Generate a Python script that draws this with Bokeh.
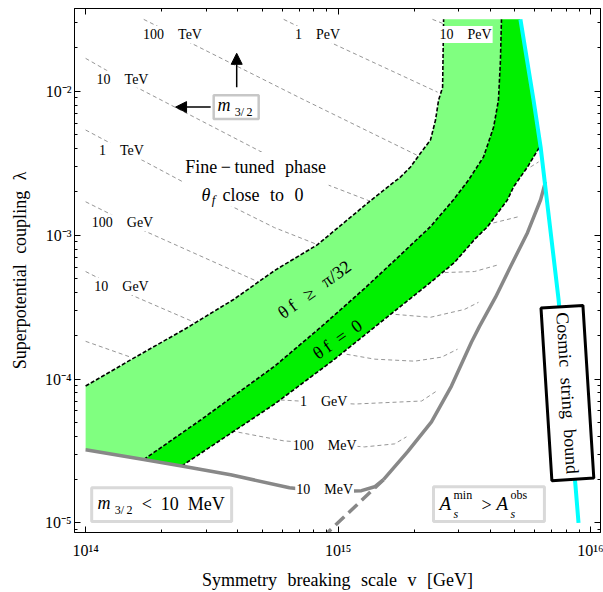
import numpy as np
from bokeh.plotting import figure
from bokeh.models import (Range1d, LogAxis, FixedTicker, CustomJSTickFormatter, Label,
                          BoxAnnotation, Arrow, NormalHead)
from bokeh.embed import file_html
from bokeh.resources import INLINE

FONT = "Liberation Serif"
SP = "\u2002\u200a"   # wide word space as in the original typesetting

# ---------------- data: log10(v / GeV), log10(lambda) ----------------
upper_lv = [14.000, 14.190, 14.392, 14.586, 14.748, 14.918, 15.132, 15.247, 15.286, 15.326, 15.365, 15.385, 15.397, 15.413, 15.417]
upper_ll = [-4.049, -3.855, -3.654, -3.447, -3.246, -3.066, -2.754, -2.595, -2.526, -2.429, -2.339, -2.200, -2.062, -1.972, -1.500]
mid_lv = [14.230, 14.455, 14.748, 14.930, 15.100, 15.235, 15.365, 15.456, 15.516, 15.575, 15.615, 15.634, 15.642, 15.646]
mid_ll = [-4.560, -4.285, -3.911, -3.641, -3.377, -3.156, -2.941, -2.754, -2.616, -2.456, -2.249, -2.062, -1.785, -1.500]
low_lv = [14.380, 14.748, 14.970, 15.167, 15.365, 15.460, 15.539, 15.591, 15.670, 15.694, 15.749, 15.797]
low_ll = [-4.605, -4.174, -3.883, -3.606, -3.329, -3.190, -3.031, -2.941, -2.754, -2.664, -2.526, -2.387]
cyan_lv = [15.721, 15.773, 15.801, 15.872, 15.939, 15.951]
cyan_ll = [-1.500, -2.062, -2.387, -3.447, -4.742, -5.000]
mev10_lv = [14.000, 14.230, 14.380, 14.574, 14.807, 14.950, 15.092, 15.144, 15.179]
mev10_ll = [-4.492, -4.560, -4.605, -4.666, -4.756, -4.783, -4.776, -4.749, -4.700]
as_lv = [15.820, 15.801, 15.749, 15.682, 15.622, 15.559, 15.527, 15.448, 15.369, 15.274, 15.179]
as_ll = [-2.630, -2.754, -2.983, -3.218, -3.433, -3.634, -3.744, -4.049, -4.298, -4.506, -4.700]
as_dash_lv = [15.179, 14.958]
as_dash_ll = [-4.700, -5.067]

# m_3/2 contours (thin dashed), each level may have two visible pieces
c_100tev_lv = [[14.230, 14.851, 15.310], [15.761, 15.793]]
c_100tev_ll = [[-1.500, -2.048, -2.443], [-2.526, -2.491]]
c_10tev_lv = [[14.000, 14.186, 14.704, 14.958, 15.132], [15.587, 15.713]]
c_10tev_ll = [[-1.771, -1.958, -2.429, -2.650, -2.768], [-2.927, -2.872]]
c_1tev_lv = [[14.000, 14.392, 14.590, 14.748, 14.918], [15.421, 15.539, 15.638]]
c_1tev_ll = [[-2.269, -2.636, -2.810, -2.948, -3.066], [-3.260, -3.253, -3.204]]
c_100gev_lv = [[14.000, 14.222, 14.689], [15.227, 15.365, 15.500, 15.555]]
c_100gev_ll = [[-2.768, -2.962, -3.329], [-3.551, -3.571, -3.516, -3.467]]
c_10gev_lv = [[14.000, 14.194, 14.431], [15.033, 15.144, 15.302, 15.409, 15.472]]
c_10gev_ll = [[-3.253, -3.426, -3.606], [-3.828, -3.862, -3.876, -3.848, -3.793]]
c_1gev_lv = [[14.000, 14.178], [14.772, 15.065, 15.330, 15.389]]
c_1gev_ll = [[-3.738, -3.848], [-4.146, -4.174, -4.153, -4.084]]
c_100mev_lv = [[14.578, 14.784, 15.104, 15.223, 15.270]]
c_100mev_ll = [[-4.361, -4.430, -4.472, -4.451, -4.402]]
c_1pev_lv = [[14.784, 14.977, 15.393]]
c_1pev_ll = [[-1.500, -1.667, -2.006]]
c_10pev_lv = [[15.373, 15.413]]
c_10pev_ll = [[-1.500, -1.528]]

contour_names = ["100 TeV", "10 TeV", "1 TeV", "100 GeV", "10 GeV", "1 PeV", "10 PeV", "1 GeV", "100 MeV", "10 MeV"]
contour_label_lv = [14.344, 14.146, 14.142, 14.146, 14.142, 14.918, 15.504, 14.942, 14.946, 14.946]
contour_label_ll = [-1.605, -1.916, -2.415, -2.913, -3.357, -1.605, -1.605, -4.153, -4.465, -4.769]

x_major = [1e14, 1e15, 1e16]
y_major = [1e-5, 1e-4, 1e-3, 1e-2]

def E(a):
    return 10 ** np.asarray(a, dtype=float)

x_minor = [m * 10.0 ** e for e in (13, 14, 15, 16) for m in range(2, 10)]
y_minor = [m * 10.0 ** e for e in (-6, -5, -4, -3, -2) for m in range(2, 10)]

p = figure(width=603, height=592, x_axis_type="log", y_axis_type="log",
           x_range=Range1d(10 ** 13.956, 10 ** 16.038), y_range=Range1d(10 ** -5.067, 10 ** -1.4245),
           output_backend="svg", toolbar_location=None,
           min_border_left=74, min_border_right=3, min_border_top=8, min_border_bottom=58)
p.grid.visible = False
p.outline_line_color = "black"
p.outline_line_width = 1

fmt = CustomJSTickFormatter(code="""
const e = Math.round(Math.log10(tick));
const m = {"-":"\\u207b","0":"\\u2070","1":"\\u00b9","2":"\\u00b2","3":"\\u00b3","4":"\\u2074","5":"\\u2075","6":"\\u2076","7":"\\u2077","8":"\\u2078","9":"\\u2079"};
return "10" + String(e).split("").map(c => m[c]).join("");
""")
blank = CustomJSTickFormatter(code="return '';")

def style(ax, labels=True):
    ax.major_tick_in = 6
    ax.major_tick_out = 0
    ax.minor_tick_in = 3
    ax.minor_tick_out = 0
    ax.axis_line_color = "black"
    ax.major_tick_line_color = "black"
    ax.minor_tick_line_color = "black"
    ax.major_label_text_font = FONT
    ax.major_label_text_font_size = "16px"
    ax.major_label_text_color = "black"
    ax.axis_label_text_font = FONT
    ax.axis_label_text_font_size = "18px"
    ax.axis_label_text_font_style = "normal"
    ax.axis_label_text_color = "black"
    if not labels:
        ax.major_label_standoff = 0
        ax.major_label_text_font_size = "0px"

xa = p.xaxis[0]
xa.ticker = FixedTicker(ticks=x_major, minor_ticks=x_minor)
xa.formatter = fmt
style(xa)
xa.major_label_standoff = 9
xa.axis_label = "Symmetry" + SP + "breaking" + SP + "scale" + SP + "v" + SP + "[GeV]"
xa.axis_label_standoff = 8

ya = p.yaxis[0]
ya.ticker = FixedTicker(ticks=y_major, minor_ticks=y_minor)
ya.formatter = fmt
style(ya)
ya.major_label_standoff = 3
ya.axis_label = "Superpotential" + SP + "coupling" + SP + "\u03bb"
ya.axis_label_standoff = 12

top_ax = LogAxis(ticker=FixedTicker(ticks=x_major, minor_ticks=x_minor), formatter=blank)
style(top_ax, labels=False)
p.add_layout(top_ax, "above")
right_ax = LogAxis(ticker=FixedTicker(ticks=y_major, minor_ticks=y_minor), formatter=blank)
style(right_ax, labels=False)
p.add_layout(right_ax, "right")

# thin dashed m_3/2 contours
for lvs, lls in [(c_100tev_lv, c_100tev_ll), (c_10tev_lv, c_10tev_ll), (c_1tev_lv, c_1tev_ll),
                 (c_100gev_lv, c_100gev_ll), (c_10gev_lv, c_10gev_ll), (c_1gev_lv, c_1gev_ll),
                 (c_100mev_lv, c_100mev_ll), (c_1pev_lv, c_1pev_ll), (c_10pev_lv, c_10pev_ll)]:
    for a, b in zip(lvs, lls):
        p.line(E(a), E(b), line_color="#8a8a8a", line_width=0.9, line_dash="4 3")

# bands
light_x = upper_lv + mid_lv[::-1] + [mev10_lv[0]]
light_y = upper_ll + mid_ll[::-1] + [mev10_ll[0]]
p.patch(E(light_x), E(light_y), fill_color="#80ff80", line_color=None)
dark_x = mid_lv + cyan_lv[:2] + low_lv[::-1]
dark_y = mid_ll + cyan_ll[:2] + low_ll[::-1]
p.patch(E(dark_x), E(dark_y), fill_color="#00f000", line_color=None)

for a, b in [(upper_lv, upper_ll), (mid_lv, mid_ll), (low_lv, low_ll)]:
    p.line(E(a), E(b), line_color="black", line_width=1.6, line_dash="4 2")

# grey bounds
p.line(E(mev10_lv), E(mev10_ll), line_color="#888888", line_width=3.5)
p.line(E(as_lv), E(as_ll), line_color="#888888", line_width=3.5)
p.line(E(as_dash_lv), E(as_dash_ll), line_color="#888888", line_width=3.5, line_dash="12 6")

# cosmic string bound
p.line(E(cyan_lv), E(cyan_ll), line_color="#00ffff", line_width=4)
p.rect(x=[10 ** 15.907], y=[10 ** -4.098], width=42, height=173, width_units="screen",
       height_units="screen", angle=0.063, fill_color="white", line_color="black", line_width=3)

# ---------------- annotations ----------------
p.add_layout(BoxAnnotation(left=10 ** 14.384, right=10 ** 14.962, bottom=10 ** -2.803, top=10 ** -2.422,
                           fill_color="white", fill_alpha=1.0, line_color=None))
p.add_layout(BoxAnnotation(left=10 ** 14.507, right=10 ** 14.685, bottom=10 ** -2.193, top=10 ** -2.027,
                           fill_color="white", fill_alpha=1.0, line_color="#444444", line_width=2.5))
p.add_layout(BoxAnnotation(left=10 ** 14.024, right=10 ** 14.578, bottom=10 ** -4.991, top=10 ** -4.756,
                           fill_color="white", fill_alpha=1.0, line_color="#808080", line_width=3))
p.add_layout(BoxAnnotation(left=10 ** 15.377, right=10 ** 15.816, bottom=10 ** -4.991, top=10 ** -4.749,
                           fill_color="white", fill_alpha=1.0, line_color="#808080", line_width=3))

def lab(lv, ll, text, size, align="left", style_="normal", angle=0.0, bg=None, pad=0):
    kw = dict(x=10 ** lv, y=10 ** ll, text=text, text_font=FONT, text_font_size=f"{size}px",
              text_align=align, text_baseline="middle", text_font_style=style_, angle=angle,
              text_color="black")
    if bg:
        kw.update(background_fill_color=bg, background_fill_alpha=1.0, padding=pad)
    p.add_layout(Label(**kw))

for name, a, b in zip(contour_names, contour_label_lv, contour_label_ll):
    n, u = name.split(" ")
    lab(a, b, n + "\u2003" + u, 14, align="center", bg="white", pad=1)

lab(14.673, -2.526, "Fine\u2009\u2212\u2009tuned" + SP + "phase", 18, align="center")
lab(14.459, -2.720, "\u03b8", 18, style_="italic")
lab(14.499, -2.754, "f", 13, style_="italic")
lab(14.542, -2.720, "close" + SP + "to" + SP + "0", 18)

lab(14.906, -3.377, "\u03b8\u2009f\u2002\u2009\u2265\u2002\u2009\u03c0/32", 18, align="center", angle=0.63)
lab(14.997, -3.724, "\u03b8\u2009f\u2002=\u20020", 18, align="center", angle=0.61)

# m_3/2 box and arrows
lab(14.522, -2.096, "m", 18, style_="italic")
lab(14.590, -2.145, "3/\u20092", 12)
p.add_layout(Arrow(end=NormalHead(size=11, fill_color="black", line_color="black"),
                   x_start=10 ** 14.598, y_start=10 ** -1.972, x_end=10 ** 14.598, y_end=10 ** -1.736,
                   line_color="black", line_width=1.5))
p.add_layout(Arrow(end=NormalHead(size=11, fill_color="black", line_color="black"),
                   x_start=10 ** 14.495, y_start=10 ** -2.110, x_end=10 ** 14.356, y_end=10 ** -2.110,
                   line_color="black", line_width=1.5))

# m_3/2 < 10 MeV
lab(14.047, -4.859, "m", 18, style_="italic")
lab(14.115, -4.908, "3/\u20092", 12)
lab(14.222, -4.866, "<\u200210\u2002MeV", 18)

# A_s^min > A_s^obs
lab(15.401, -4.866, "A", 19, style_="italic")
lab(15.456, -4.804, "min", 12)
lab(15.456, -4.936, "s", 12, style_="italic")
lab(15.567, -4.873, ">", 18)
lab(15.626, -4.866, "A", 19, style_="italic")
lab(15.682, -4.804, "obs", 12)
lab(15.682, -4.936, "s", 12, style_="italic")

lab(15.907, -4.098, "Cosmic" + SP + "string" + SP + "bound", 18, align="center", angle=-1.508)

with open("out.html", "w", encoding="utf-8") as f:
    f.write(file_html(p, INLINE))
